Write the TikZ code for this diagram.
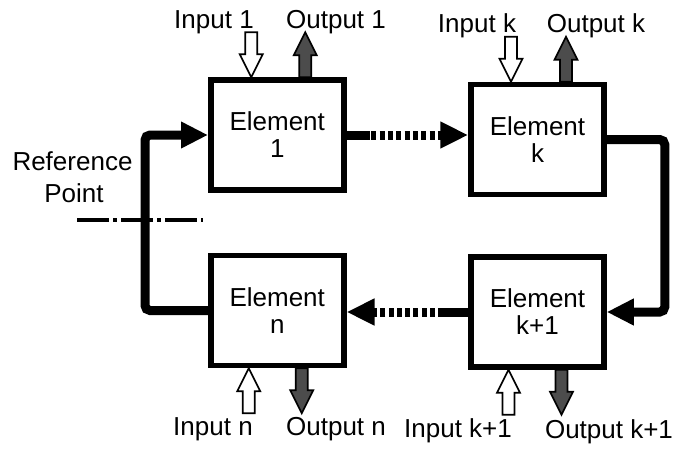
\documentclass[tikz,border=0pt]{standalone}
\usepackage{fontspec}
\setmainfont{Liberation Sans}
\usetikzlibrary{arrows.meta,calc}
\begin{document}
\begin{tikzpicture}[x=1pt,y=-1pt,
  elem/.style={draw, fill=white, line width=5.5pt, minimum width=133pt, minimum height=110pt,
    align=center, font=\fontsize{26}{27}\selectfont, inner sep=0pt},
  lbl/.style={font=\fontsize{26}{30}\selectfont, anchor=base, inner sep=0pt},
  conn/.style={line width=9pt, rounded corners=5pt, -{Triangle[length=27pt,width=25pt]}},
  dotconn/.style={line width=9pt, dash pattern=on 5pt off 3.3pt, -{Triangle[length=28pt,width=25pt]}},
  solidseg/.style={line width=9pt},
  refline/.style={line width=3.5pt, dash pattern=on 32pt off 4pt on 4pt off 4pt},
  inblk/.style={draw, fill=white, line width=1.6pt, line join=miter},
  outblk/.style={draw, fill=black!70, line width=1.6pt, line join=miter},
  arrin/.pic={\path[pic actions] (-6,-45) -- (6,-45) -- (6,-23) -- (11.5,-23) -- (0,0) -- (-11.5,-23) -- (-6,-23) -- cycle;},
  arrout/.pic={\path[pic actions] (-6,0) -- (-6,-22) -- (-11.5,-22) -- (0,-45) -- (11.5,-22) -- (6,-22) -- (6,0) -- cycle;}
]
\useasboundingbox (0,0) rectangle (675,450);

% elements
\node[elem] (e1)  at (277.25,135)  {Element\\1};
\node[elem] (ek)  at (537.5,139.5) {Element\\k};
\node[elem] (en)  at (277.25,310.5){Element\\n};
\node[elem] (ek1) at (537.5,312)   {Element\\k+1};

% input / output block arrows
\pic[inblk]  at ($(e1.north)+(-26,0)$) {arrin};
\pic[outblk] at ($(e1.north)+(28,0)$)  {arrout};
\pic[inblk]  at ($(ek.north)+(-26.5,0)$) {arrin};
\pic[outblk] at ($(ek.north)+(28.5,0)$)  {arrout};
\pic[inblk,rotate=180]  at ($(en.south)+(-28.5,0)$) {arrin};
\pic[outblk,rotate=180] at ($(en.south)+(24.5,0)$)  {arrout};
\pic[inblk,rotate=180]  at ($(ek1.south)+(-29,0)$) {arrin};
\pic[outblk,rotate=180] at ($(ek1.south)+(24,0)$)  {arrout};

% labels
\node[lbl] (li1)  at (214,28)  {Input 1};
\node[lbl] (lo1)  at (336,28)  {Output 1};
\node[lbl] (lik)  at (477,32)  {Input k};
\node[lbl] (lok)  at (596,32)  {Output k};
\node[lbl] (lin)  at (213,435) {Input n};
\node[lbl] (lon)  at (336,435) {Output n};
\node[lbl] (lik1) at (458,437) {Input k+1};
\node[lbl] (lok1) at (609,438) {Output k+1};
\node[lbl] (ref1) at (72.5,170) {Reference};
\node[lbl] (ref2) at (74,202)  {Point};

% loops
\draw[conn] (en.west) -| ($(e1.west)+(-63,0)$) -- (e1.west);
\draw[conn] (ek.east) -| ($(ek1.east)+(58,0)$) -- (ek1.east);

% dotted connectors
\draw[dotconn] (e1.east) -- (e1.east -| ek.west);
\draw[solidseg] (e1.east) -- ++(23,0);
\draw[dotconn] (ek1.west) -- (ek1.west -| en.east);
\draw[solidseg] (ek1.west) -- ++(-25,0);

% reference line
\coordinate (rp1) at (77,220);
\coordinate (rp2) at (203,220);
\draw[refline] (rp1) -- (rp2);
\end{tikzpicture}
\end{document}
